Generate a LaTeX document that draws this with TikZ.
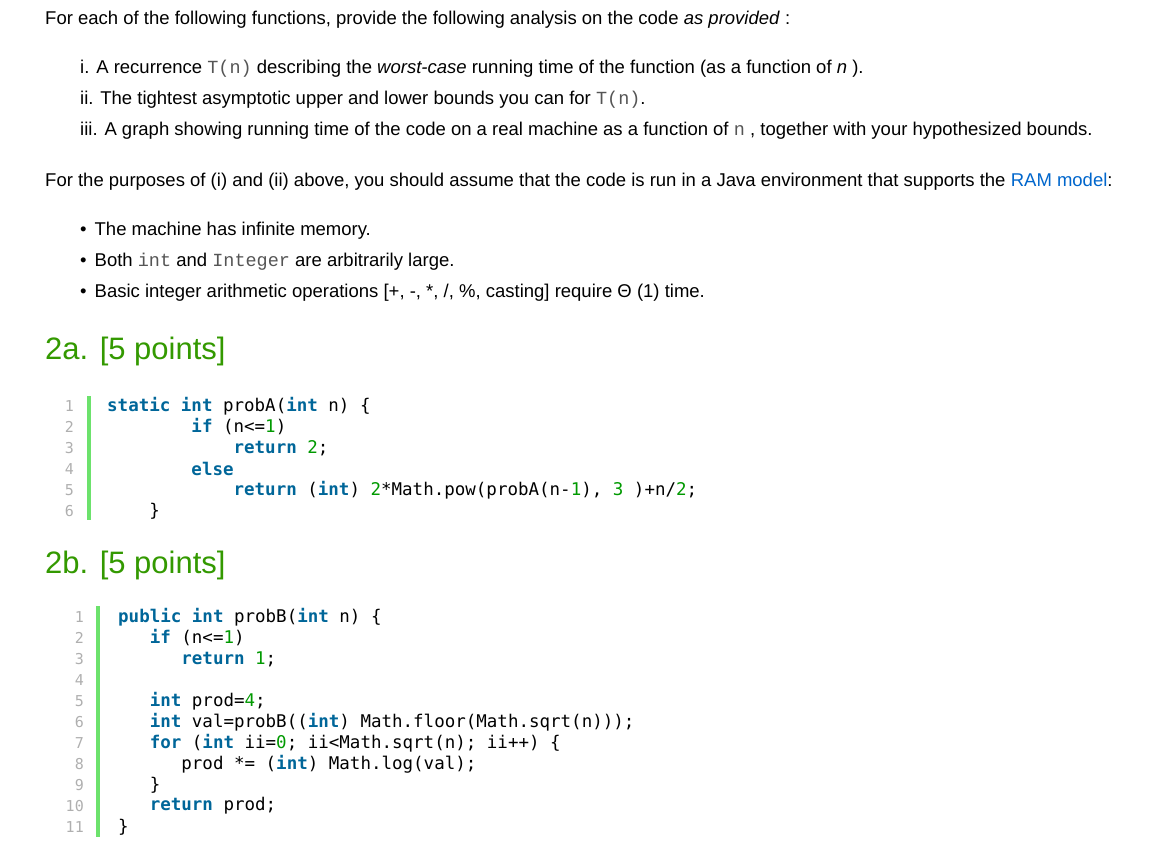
\documentclass[tikz,border=0pt]{standalone}
\usepackage{fontspec}
\setmainfont{Liberation Sans}
\newfontfamily\codefont{DejaVu Sans Mono}
\newfontfamily\inl{Liberation Mono}
\definecolor{kw}{HTML}{006699}
\definecolor{num}{HTML}{009900}
\definecolor{hd}{HTML}{339900}
\definecolor{lnum}{HTML}{AFAFAF}
\definecolor{bar}{HTML}{6CE26C}
\definecolor{lnk}{HTML}{0066CC}
\newcommand{\K}[1]{\textcolor{kw}{\bfseries #1}}
\newcommand{\N}[1]{\textcolor{num}{#1}}
\newcommand{\IC}[1]{{\inl\textcolor[HTML]{555555}{#1}}}
\begin{document}
\begin{tikzpicture}[x=1pt,y=-1pt,
  txt/.style={anchor=west,inner sep=0pt,font=\fontsize{18.5}{22}\selectfont},
  hdr/.style={anchor=west,inner sep=0pt,font=\fontsize{31}{36}\selectfont,text=hd},
  code/.style={anchor=west,inner sep=0pt,font=\codefont\fontsize{17.5}{20}\selectfont},
  ln/.style={anchor=east,inner sep=0pt,font=\codefont\fontsize{15}{20}\selectfont,text=lnum}]
\useasboundingbox (0,0) rectangle (1163,842);
\node[txt] (t1) at (45,20) {For each of the following functions, provide the following analysis on the code \textit{as provided} :};
\node[txt] (t2) at (80,69) {i. A recurrence \IC{T(n)} describing the \textit{worst-case} running time of the function (as a function of \textit{n} ).};
\node[txt] (t3) at (80,100) {ii. The tightest asymptotic upper and lower bounds you can for \IC{T(n)}.};
\node[txt] (t4) at (80,131) {iii. A graph showing running time of the code on a real machine as a function of \IC{n} , together with your hypothesized bounds.};
\node[txt] (t5) at (45,182) {For the purposes of (i) and (ii) above, you should assume that the code is run in a Java environment that supports the \textcolor{lnk}{RAM model}:};
\node[txt] (b1) at (80,231) {\textbullet\hspace{8pt}The machine has infinite memory.};
\node[txt] (b2) at (80,262) {\textbullet\hspace{8pt}Both \IC{int} and \IC{Integer} are arbitrarily large.};
\node[txt] (b3) at (80,293) {\textbullet\hspace{8pt}Basic integer arithmetic operations [+, -, *, /, \%, casting] require Θ (1) time.};
\node[hdr] (h1) at (45,351) {2a. [5 points]};
\fill[bar] (87,396) rectangle (91,520);
\foreach \i in {1,...,6} \node[ln] (a\i) at (74,385+21*\i) {\i};
\node[code] (c1) at (107,406) {\K{static} \K{int} probA(\K{int} n) \{};
\node[code] (c2) at (107,427) {\phantom{xxxxxxxx}\K{if} (n<=\N{1})};
\node[code] (c3) at (107,448) {\phantom{xxxxxxxxxxxx}\K{return} \N{2};};
\node[code] (c4) at (107,469) {\phantom{xxxxxxxx}\K{else}};
\node[code] (c5) at (107,490) {\phantom{xxxxxxxxxxxx}\K{return} (\K{int}) \N{2}*Math.pow(probA(n-\N{1}), \N{3} )+n/\N{2};};
\node[code] (c6) at (107,511) {\phantom{xxxx}\}};
\node[hdr] (h2) at (45,565) {2b. [5 points]};
\fill[bar] (96,606) rectangle (100,837);
\foreach \i in {1,...,11} \node[ln] (b\i) at (84,596+21*\i) {\i};
\node[code] (d1) at (118,617) {\K{public} \K{int} probB(\K{int} n) \{};
\node[code] (d2) at (118,638) {\phantom{xxx}\K{if} (n<=\N{1})};
\node[code] (d3) at (118,659) {\phantom{xxxxxx}\K{return} \N{1};};
\node[code] (d5) at (118,701) {\phantom{xxx}\K{int} prod=\N{4};};
\node[code] (d6) at (118,722) {\phantom{xxx}\K{int} val=probB((\K{int}) Math.floor(Math.sqrt(n)));};
\node[code] (d7) at (118,743) {\phantom{xxx}\K{for} (\K{int} ii=\N{0}; ii<Math.sqrt(n); ii++) \{};
\node[code] (d8) at (118,764) {\phantom{xxxxxx}prod *= (\K{int}) Math.log(val);};
\node[code] (d9) at (118,785) {\phantom{xxx}\}};
\node[code] (d10) at (118,806) {\phantom{xxx}\K{return} prod;};
\node[code] (d11) at (118,827) {\}};
\end{tikzpicture}
\end{document}
